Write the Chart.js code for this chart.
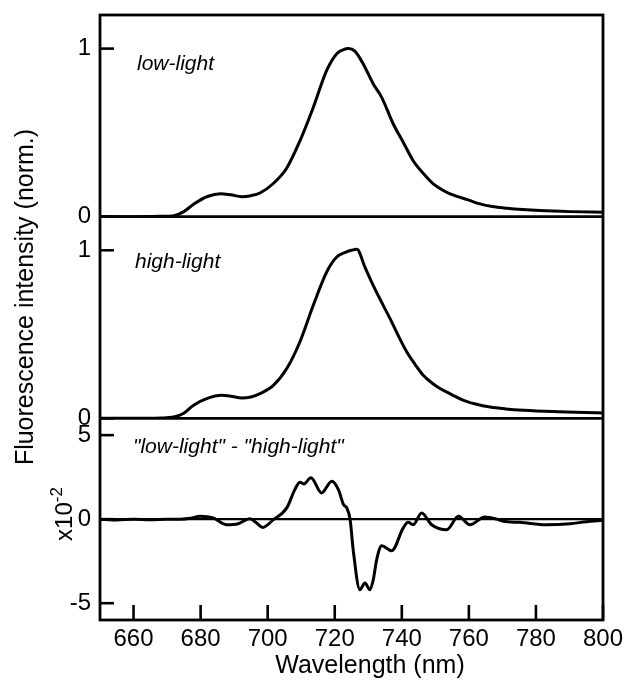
<!DOCTYPE html>
<html>
<head>
<meta charset="utf-8">
<script src="https://cdn.jsdelivr.net/npm/chart.js@4/dist/chart.umd.min.js"></script>
<style>
  html, body { margin: 0; padding: 0; background: #fff; }
  #chart { display: block; }
</style>
</head>
<body>
<canvas id="chart" width="630" height="685"></canvas>
<script>
// ── DATOS ──
const lowNm  = [650, 660, 668, 672, 675, 678, 682, 686, 689, 692.3, 695, 697.7, 701.6, 705.7, 709.6, 713.6, 717.6, 720.6, 722.5, 724.1, 726, 728.5, 731.5, 734, 737.5, 740.5, 743.4, 746.5, 749.4, 752, 754.4, 757.4, 760, 763.3, 767, 771.3, 776, 781.2, 790, 800];
const lowVal = [0, 0, 0.002, 0.006, 0.03, 0.075, 0.12, 0.137, 0.13, 0.119, 0.125, 0.141, 0.196, 0.29, 0.45, 0.65, 0.87, 0.97, 0.993, 1.0, 0.985, 0.909, 0.79, 0.71, 0.55, 0.44, 0.333, 0.255, 0.195, 0.16, 0.135, 0.115, 0.098, 0.076, 0.06, 0.05, 0.042, 0.036, 0.03, 0.026];

const highNm  = [650, 660, 668, 672, 675, 677.8, 681.8, 686.3, 689, 692.3, 695, 697.7, 701.7, 705.7, 709.6, 713.6, 717.6, 720.6, 723.5, 725, 726.6, 729, 731.5, 734, 736.5, 739, 741.5, 744, 746.4, 749, 751.4, 755, 758.4, 762, 766.3, 771, 776.3, 785, 800];
const highVal = [0, 0, 0.002, 0.008, 0.03, 0.077, 0.117, 0.137, 0.132, 0.121, 0.127, 0.147, 0.196, 0.296, 0.454, 0.673, 0.871, 0.96, 0.99, 1.0, 1.006, 0.90, 0.79, 0.69, 0.593, 0.49, 0.395, 0.32, 0.256, 0.21, 0.177, 0.14, 0.107, 0.085, 0.067, 0.056, 0.048, 0.04, 0.032];

// diferencia en unidades de 10^-2
const diffNm  = [650, 655, 660, 665, 670, 674, 677, 679.8, 683.8, 687.8, 691.2, 694.7, 696.7, 698.5, 701.7, 705.7, 708.1, 709.6, 710.8, 712.9, 716.1, 719.1, 721.1, 722.6, 723.6, 724.6, 725.5, 727.5, 729, 730.5, 731.5, 732.5, 734, 737, 740.4, 741.9, 743.4, 745.9, 748.9, 753.4, 756.9, 760.3, 764.8, 768.3, 770.3, 775.2, 783.2, 790.2, 795, 800];
const diffVal = [0, -0.05, 0, -0.03, 0, 0, 0.05, 0.17, 0.07, -0.33, -0.27, 0.03, -0.23, -0.49, -0.03, 0.67, 1.76, 2.2, 2.1, 2.46, 1.56, 2.26, 1.76, 0.87, 0.67, -0.03, -1.82, -4.2, -3.8, -4.2, -3.6, -2.42, -1.58, -1.88, -0.53, -0.19, -0.33, 0.37, -0.33, -0.63, 0.17, -0.33, 0.13, 0, -0.13, -0.19, -0.33, -0.27, -0.15, -0.07];

const xTicks    = [660, 680, 700, 720, 740, 760, 780, 800];
const normTicks = [0, 1];
const diffTicks = [-5, 0, 5];

const panelLabels = ['low-light', 'high-light', '"low-light" - "high-light"'];

// ── ESTILO COMÚN ──
const FONT = '"Liberation Sans", Arial, Helvetica, sans-serif';
const tickFont = { family: FONT, size: 24 };

function pts(xs, ys) {
  return xs.map((v, i) => ({ x: v, y: ys[i] }));
}

function lineSet(data, axis) {
  return {
    data: data,
    yAxisID: axis,
    borderColor: '#000',
    borderWidth: 3,
    pointRadius: 0,
    fill: false,
    cubicInterpolationMode: 'monotone'
  };
}

function noPad(s) {
  s.paddingTop = 0; s.paddingBottom = 0; s.paddingLeft = 0; s.paddingRight = 0;
}

function yScale(min, max, ticks, weight) {
  return {
    type: 'linear',
    position: 'left',
    stack: 'panels',
    stackWeight: 1,
    weight: weight,
    min: min,
    max: max,
    grid: { display: false, drawTicks: false },
    border: { display: false },
    ticks: { font: tickFont, color: '#000', padding: 9, autoSkip: false },
    afterBuildTicks: s => { s.ticks = ticks.map(v => ({ value: v })); },
    afterFit: s => { s.width = 100; noPad(s); }
  };
}

// ── MARCO, TICKS HACIA DENTRO Y TEXTOS ──
const framePlugin = {
  id: 'frame',
  afterDatasetsDraw(chart) {
    const { ctx, chartArea: a, scales } = chart;
    const { x, yTop, yMid, yDiff } = scales;
    const seg = (x1, y1, x2, y2) => { ctx.beginPath(); ctx.moveTo(x1, y1); ctx.lineTo(x2, y2); ctx.stroke(); };

    ctx.save();
    ctx.strokeStyle = '#000';
    ctx.lineWidth = 2.8;
    ctx.strokeRect(a.left, a.top, a.right - a.left, a.bottom - a.top);

    // separadores = línea cero de los paneles superiores
    [yTop, yMid].forEach(s => { const py = s.getPixelForValue(0); seg(a.left, py, a.right, py); });
    ctx.lineWidth = 2.4;
    const z = yDiff.getPixelForValue(0);
    seg(a.left, z, a.right, z);

    ctx.lineWidth = 2.6;
    x.ticks.forEach(t => { const px = x.getPixelForValue(t.value); seg(px, a.bottom, px, a.bottom - 15); });
    [yTop, yMid, yDiff].forEach(s => s.ticks.forEach(t => {
      const py = s.getPixelForValue(t.value);
      seg(a.left, py, a.left + 14, py);
    }));

    // etiquetas de panel
    ctx.fillStyle = '#000';
    ctx.textBaseline = 'alphabetic';
    ctx.textAlign = 'left';
    ctx.font = 'italic 21px ' + FONT;
    ctx.fillText(panelLabels[0], a.left + 37, yTop.getPixelForValue(0.873));
    ctx.fillText(panelLabels[1], a.left + 35, yMid.getPixelForValue(0.895));
    ctx.fillText(panelLabels[2], a.left + 33, yDiff.getPixelForValue(3.94));

    // título eje x
    ctx.font = '25px ' + FONT;
    ctx.textAlign = 'center';
    ctx.fillText('Wavelength (nm)', 370, 673);

    // título eje y
    ctx.save();
    ctx.translate(33, 297);
    ctx.rotate(-Math.PI / 2);
    ctx.fillText('Fluorescence intensity (norm.)', 0, 0);
    ctx.restore();

    // x10^-2
    ctx.save();
    ctx.translate(72, 514);
    ctx.rotate(-Math.PI / 2);
    ctx.textAlign = 'left';
    ctx.font = '24px ' + FONT;
    const w1 = ctx.measureText('x10').width;
    ctx.font = '17px ' + FONT;
    const w2 = ctx.measureText('-2').width;
    const u0 = -(w1 + w2) / 2;
    ctx.font = '24px ' + FONT;
    ctx.fillText('x10', u0, 0);
    ctx.font = '17px ' + FONT;
    ctx.fillText('-2', u0 + w1, -10);
    ctx.restore();

    ctx.restore();
  }
};

new Chart(document.getElementById('chart').getContext('2d'), {
  type: 'line',
  data: {
    datasets: [
      lineSet(pts(lowNm, lowVal), 'yTop'),
      lineSet(pts(highNm, highVal), 'yMid'),
      lineSet(pts(diffNm, diffVal), 'yDiff')
    ]
  },
  options: {
    responsive: false,
    animation: false,
    layout: { padding: { top: 15, right: 27, left: 0, bottom: 0 } },
    plugins: { legend: { display: false }, tooltip: { enabled: false } },
    scales: {
      x: {
        type: 'linear',
        position: 'bottom',
        min: 650,
        max: 800,
        grid: { display: false, drawTicks: false },
        border: { display: false },
        ticks: { font: tickFont, color: '#000', padding: 5, autoSkip: false, maxRotation: 0 },
        afterBuildTicks: s => { s.ticks = xTicks.map(v => ({ value: v })); },
        afterFit: s => { s.height = 65; noPad(s); }
      },
      yTop: yScale(0, 1.2, normTicks, 3),
      yMid: yScale(0, 1.2, normTicks, 2),
      yDiff: yScale(-6, 6, diffTicks, 1)
    }
  },
  plugins: [framePlugin]
});
</script>
</body>
</html>
